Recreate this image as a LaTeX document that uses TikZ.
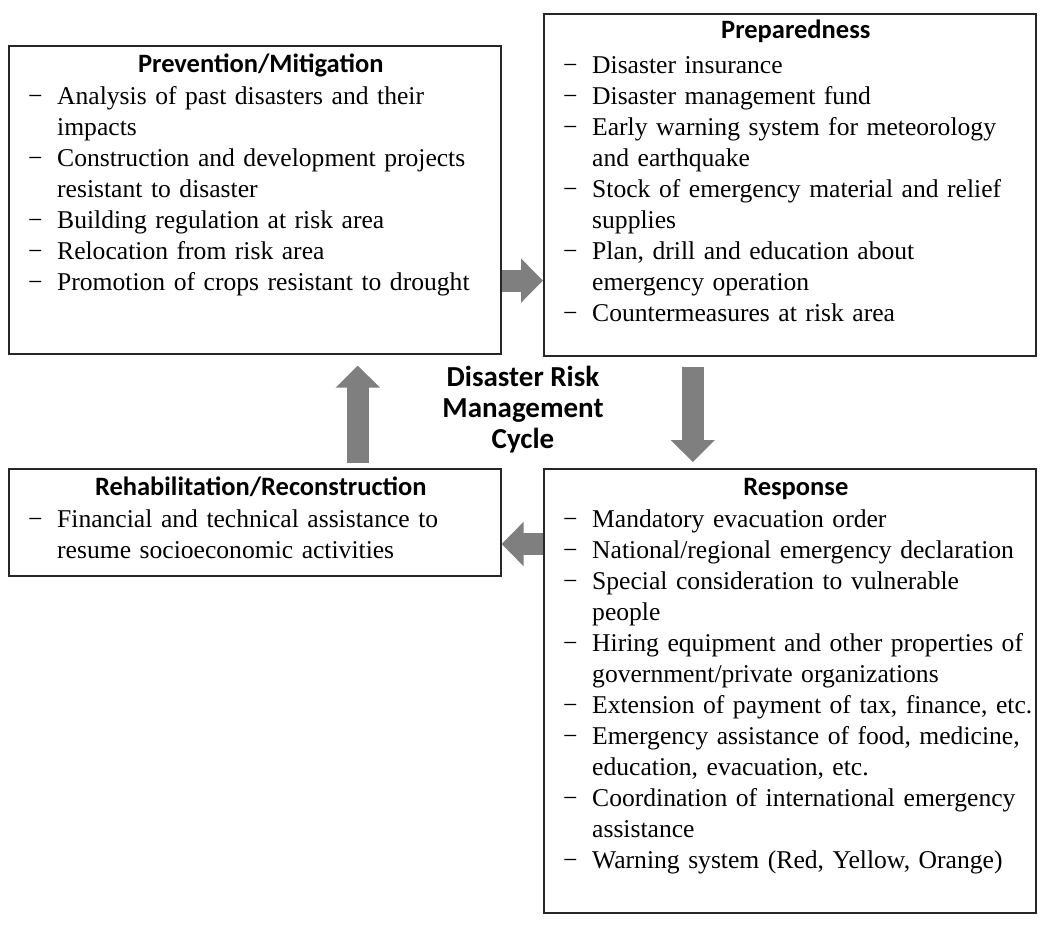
\documentclass[tikz,border=0pt]{standalone}
\usepackage{fontspec}
\setmainfont{Liberation Serif}
\newfontfamily\hdfont{Carlito}
\usepackage{xcolor}
\usepackage{tikz}
\usetikzlibrary{positioning,arrows.meta,calc}
\definecolor{frame}{HTML}{262626}
\definecolor{flow} {HTML}{7F7F7F}
\newcommand{\itm}[1]{\hangindent=29pt\hangafter=1\noindent\strut
  \makebox[29pt][l]{−}#1\par}

\begin{document}
\begin{tikzpicture}[x=1pt,y=-1pt,
  box/.style={draw=frame,line width=1.6pt,fill=white,inner sep=0pt,
              minimum width=492pt,anchor=north west},
  ttl/.style={font=\hdfont\bfseries\fontsize{26.5}{31}\selectfont,anchor=base,
              inner sep=0pt,xshift=6pt},
  lst/.style={font=\fontsize{25.6}{31}\selectfont,text width=500pt,align=left,
              anchor=north west,inner sep=0pt},
  blk/.style={draw=flow,line width=22pt,
              -{Triangle[length=22pt,width=43pt]}}]

\path[use as bounding box,fill=white] (0,0) rectangle (1043,924);

\node[box,minimum height=308pt] (prev) at (8,45) {};
\node[box,minimum height=342pt] (prep) at (543,13) {};
\node[box,minimum height=107pt] (rehab) at (8,468) {};
\node[box,minimum height=444pt] (resp) at (543,468) {};

\node[ttl] (prevtl) at ($(prev.north)+(0,27)$) {Prevention/Mitigation};
\node[ttl] (preptl) at ($(prep.north)+(0,25)$) {Preparedness};
\node[ttl] (rehabtl) at ($(rehab.north)+(0,27)$) {Rehabilitation/Reconstruction};
\node[ttl] (resptl) at ($(resp.north)+(0,27)$) {Response};

\node[lst] (prevlst) at ($(prev.north west)+(20,38)$) {%
  \itm{Analysis of past disasters and their\newline impacts}
  \itm{Construction and development projects\newline resistant to disaster}
  \itm{Building regulation at risk area}
  \itm{Relocation from risk area}
  \itm{Promotion of crops resistant to drought}};
\node[lst] (preplst) at ($(prep.north west)+(20,39)$) {%
  \itm{Disaster insurance}
  \itm{Disaster management fund}
  \itm{Early warning system for meteorology\newline and earthquake}
  \itm{Stock of emergency material and relief\newline supplies}
  \itm{Plan, drill and education about\newline emergency operation}
  \itm{Countermeasures at risk area}};
\node[lst] (rehablst) at ($(rehab.north west)+(20,38)$) {%
  \itm{Financial and technical assistance to\newline resume socioeconomic activities}};
\node[lst] (resplst) at ($(resp.north west)+(20,38)$) {%
  \itm{Mandatory evacuation order}
  \itm{National/regional emergency declaration}
  \itm{Special consideration to vulnerable\newline people}
  \itm{Hiring equipment and other properties of\newline government/private organizations}
  \itm{Extension of payment of tax, finance, etc.}
  \itm{Emergency assistance of food, medicine,\newline education, evacuation, etc.}
  \itm{Coordination of international emergency\newline assistance}
  \itm{Warning system (Red, Yellow, Orange)}};

\node[font=\hdfont\bfseries\fontsize{29}{31}\selectfont,align=center,
      inner sep=0pt] (cycle) at (523,410)
  {Disaster Risk\\Management\\Cycle};

% the cycle
\draw[blk] ($(prev.south east)+(0,-74)$) coordinate (pa) -- (pa -| prep.west);
\draw[blk] ($(prep.south)+(-97,10)$) coordinate (pb) -- ($(resp.north)+(-97,-6)$);
\draw[blk] ($(resp.north west)+(0,76)$) coordinate (pc) -- (pc -| rehab.east);
\draw[blk] ($(rehab.north)+(103,-5)$) coordinate (pd) -- ($(prev.south)+(103,11)$);
\end{tikzpicture}
\end{document}
